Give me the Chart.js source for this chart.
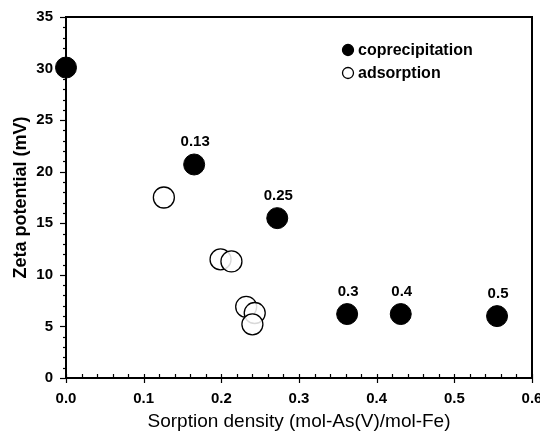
<!DOCTYPE html>
<html>
<head>
    <meta charset="UTF-8">
    <title>Zeta potential vs sorption density</title>
    <script src="https://cdn.jsdelivr.net/npm/chart.js"></script>
    <style>
        body { margin: 0; padding: 0; background: #fff; }
        canvas { display: block; }
    </style>
</head>
<body>
    <canvas id="zetaChart" width="540" height="437"></canvas>

    <script>
        // coprecipitation (filled) - labels are the As/Fe ratio next to each point
        const copX = [0.0, 0.165, 0.272, 0.362, 0.431, 0.555];
        const copY = [30.1, 20.7, 15.5, 6.2, 6.2, 6.0];
        const copLabels = ['', '0.13', '0.25', '0.3', '0.4', '0.5'];

        // adsorption (open)
        const adsX = [0.126, 0.199, 0.213, 0.232, 0.243, 0.240];
        const adsY = [17.5, 11.5, 11.3, 6.9, 6.3, 5.2];

        const xTicks = [0, 0.1, 0.2, 0.3, 0.4, 0.5, 0.6];
        const yTicks = [0, 5, 10, 15, 20, 25, 30, 35];

        const toPoints = (xs, ys) => xs.map((x, i) => ({ x: x, y: ys[i] }));

        // frame, minor ticks, point labels and the inside legend
        const decorations = {
            id: 'decorations',
            afterDatasetsDraw(chart) {
                const ctx = chart.ctx;
                const area = chart.chartArea;
                const xs = chart.scales.x;
                const ys = chart.scales.y;
                ctx.save();
                ctx.strokeStyle = '#000';

                // ticks on y axis (outside)
                ctx.lineWidth = 1.2;
                for (let v = 0; v <= 35; v++) {
                    const py = Math.round(ys.getPixelForValue(v)) + 0.5;
                    const len = v % 5 === 0 ? 6 : 3;
                    ctx.beginPath();
                    ctx.moveTo(area.left - len, py);
                    ctx.lineTo(area.left, py);
                    ctx.stroke();
                }
                // ticks on x axis: minor inside, major just below
                for (let k = 0; k <= 30; k++) {
                    const px = Math.round(xs.getPixelForValue(k * 0.02)) + 0.5;
                    ctx.beginPath();
                    if (k % 5 === 0) {
                        ctx.moveTo(px, area.bottom + 5);
                        ctx.lineTo(px, area.bottom - 4);
                    } else {
                        ctx.moveTo(px, area.bottom);
                        ctx.lineTo(px, area.bottom - 4);
                    }
                    ctx.stroke();
                }

                // frame
                ctx.lineWidth = 2;
                ctx.strokeRect(area.left, area.top, area.right - area.left, area.bottom - area.top);

                // ratio labels above filled points
                ctx.fillStyle = '#000';
                ctx.font = 'bold 15px "Liberation Sans", Arial, sans-serif';
                ctx.textAlign = 'center';
                ctx.textBaseline = 'bottom';
                const meta = chart.getDatasetMeta(0);
                meta.data.forEach((pt, i) => {
                    if (copLabels[i]) ctx.fillText(copLabels[i], pt.x + 1, pt.y - 15);
                });

                // legend
                const lx = 348;
                const rows = [
                    { y: 50, text: 'coprecipitation', filled: true },
                    { y: 73, text: 'adsorption', filled: false }
                ];
                ctx.font = 'bold 16px "Liberation Sans", Arial, sans-serif';
                ctx.textAlign = 'left';
                ctx.textBaseline = 'middle';
                ctx.lineWidth = 1.3;
                rows.forEach(r => {
                    ctx.beginPath();
                    ctx.arc(lx, r.y, 5.5, 0, Math.PI * 2);
                    if (r.filled) { ctx.fill(); } else { ctx.fillStyle = '#fff'; ctx.fill(); ctx.fillStyle = '#000'; }
                    ctx.stroke();
                    ctx.fillText(r.text, lx + 10, r.y + 1);
                });
                ctx.restore();
            }
        };

        new Chart(document.getElementById('zetaChart').getContext('2d'), {
            type: 'scatter',
            data: {
                datasets: [
                    {
                        label: 'coprecipitation',
                        data: toPoints(copX, copY),
                        backgroundColor: '#000',
                        borderColor: '#000',
                        borderWidth: 1,
                        pointRadius: 10.5,
                        clip: false
                    },
                    {
                        label: 'adsorption',
                        data: toPoints(adsX, adsY),
                        backgroundColor: 'rgba(255,255,255,0.85)',
                        borderColor: '#000',
                        borderWidth: 1.3,
                        pointRadius: 10.5,
                        clip: false
                    }
                ]
            },
            options: {
                responsive: false,
                animation: false,
                layout: { autoPadding: false, padding: { top: 17, right: 8, left: 0, bottom: 0 } },
                plugins: {
                    legend: { display: false },
                    tooltip: { enabled: false }
                },
                scales: {
                    x: {
                        type: 'linear',
                        min: 0,
                        max: 0.6,
                        afterBuildTicks: s => { s.ticks = xTicks.map(v => ({ value: v })); },
                        afterFit: s => { s.height = 59; s.paddingLeft = 0; s.paddingRight = 0; },
                        grid: { display: false, drawTicks: false },
                        border: { display: false },
                        ticks: {
                            color: '#000',
                            padding: 12,
                            font: { family: '"Liberation Sans", Arial, sans-serif', size: 15, weight: 'bold' },
                            callback: v => v.toFixed(1)
                        },
                        title: {
                            display: true,
                            text: 'Sorption density (mol-As(V)/mol-Fe)',
                            color: '#000',
                            padding: { top: 0, bottom: 4 },
                            font: { family: '"Liberation Sans", Arial, sans-serif', size: 19 }
                        }
                    },
                    y: {
                        type: 'linear',
                        min: 0,
                        max: 35,
                        afterBuildTicks: s => { s.ticks = yTicks.map(v => ({ value: v })); },
                        afterFit: s => { s.width = 66; s.paddingTop = 0; s.paddingBottom = 0; },
                        grid: { display: false, drawTicks: false },
                        border: { display: false },
                        ticks: {
                            color: '#000',
                            padding: 13,
                            font: { family: '"Liberation Sans", Arial, sans-serif', size: 15, weight: 'bold' }
                        },
                        title: {
                            display: true,
                            text: 'Zeta potential (mV)',
                            color: '#000',
                            padding: { top: 10, bottom: 0 },
                            font: { family: '"Liberation Sans", Arial, sans-serif', size: 18, weight: 'bold' }
                        }
                    }
                }
            },
            plugins: [decorations]
        });
    </script>
</body>
</html>
